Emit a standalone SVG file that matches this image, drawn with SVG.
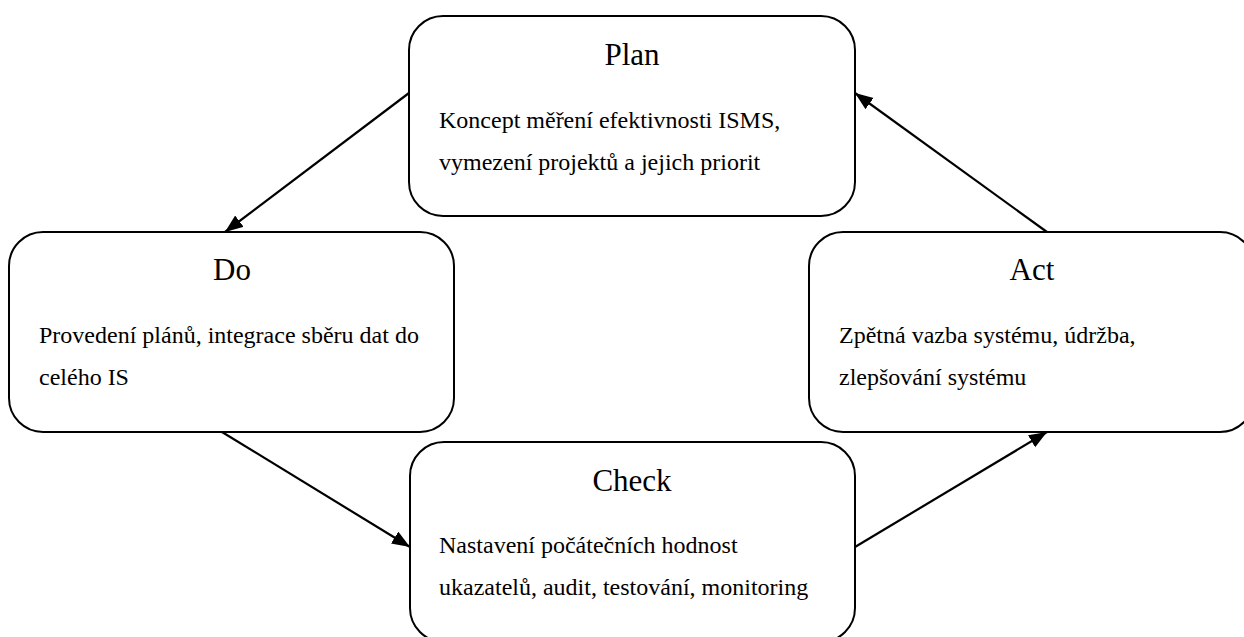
<svg xmlns="http://www.w3.org/2000/svg" width="1244" height="637" viewBox="0 0 1244 637">
<style>
.box{fill:#fff;stroke:#000;stroke-width:2}
.title{font-family:"Liberation Serif","Times New Roman",serif;font-size:31px;text-anchor:middle;fill:#000}
.body{font-family:"Liberation Serif","Times New Roman",serif;font-size:24px;fill:#000}
.conn{stroke:#000;stroke-width:2.2;fill:none;marker-end:url(#ah)}
</style>
<defs>
<marker id="ah" markerUnits="userSpaceOnUse" markerWidth="20" markerHeight="16" refX="18" refY="7" orient="auto">
<path d="M0,0 L18,7 L0,14 Z" fill="#000"/>
</marker>
</defs>
<rect width="1244" height="637" fill="#fff"/>
<g id="connectors">
<line class="conn" x1="409" y1="93" x2="225" y2="232"/>
<line class="conn" x1="222" y1="432" x2="410" y2="547"/>
<line class="conn" x1="855" y1="547" x2="1047" y2="432"/>
<line class="conn" x1="1047" y1="232" x2="855" y2="93"/>
</g>
<g id="plan">
<rect class="box" x="409" y="16" width="446" height="200" rx="34"/>
<text class="title" x="632" y="65">Plan</text>
<text class="body" x="439" y="128">Koncept měření efektivnosti ISMS,</text>
<text class="body" x="439" y="170">vymezení projektů a jejich priorit</text>
</g>
<g id="do">
<rect class="box" x="9" y="232" width="445" height="200" rx="34"/>
<text class="title" x="232" y="280">Do</text>
<text class="body" x="39" y="343">Provedení plánů, integrace sběru dat do</text>
<text class="body" x="39" y="385">celého IS</text>
</g>
<g id="act">
<rect class="box" x="809" y="232" width="445" height="200" rx="34"/>
<text class="title" x="1032" y="280">Act</text>
<text class="body" x="839" y="343">Zpětná vazba systému, údržba,</text>
<text class="body" x="839" y="385">zlepšování systému</text>
</g>
<g id="check">
<rect class="box" x="410" y="442" width="445" height="200" rx="34"/>
<text class="title" x="632" y="491">Check</text>
<text class="body" x="439" y="553">Nastavení počátečních hodnost</text>
<text class="body" x="439" y="595">ukazatelů, audit, testování, monitoring</text>
</g>
</svg>
